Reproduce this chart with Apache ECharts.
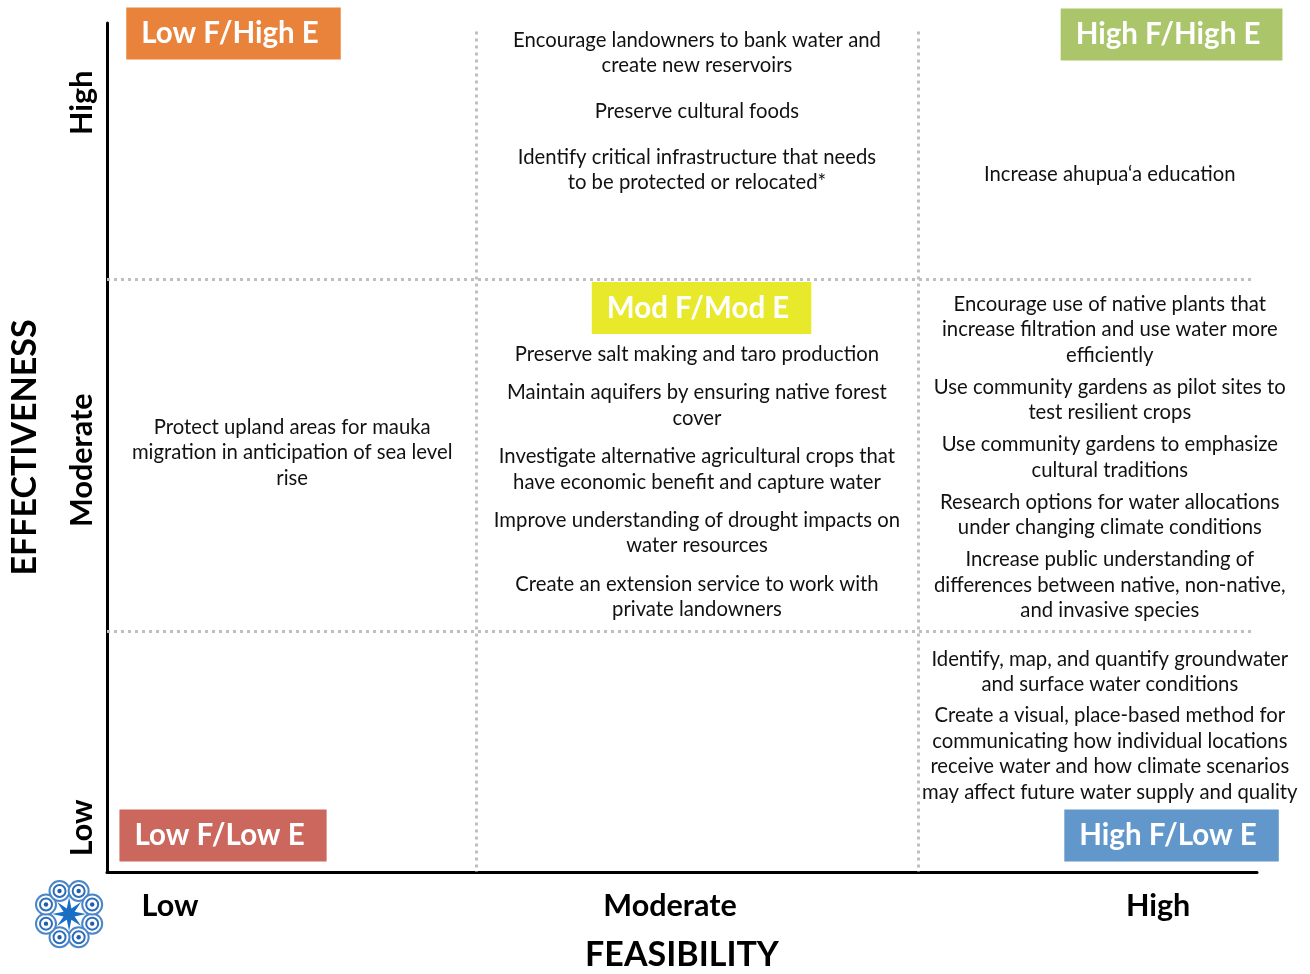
<!DOCTYPE html>
<html>
<head>
<meta charset="utf-8">
<script src="https://cdn.jsdelivr.net/npm/echarts@6/dist/echarts.min.js"></script>
<style>
html,body{margin:0;padding:0;background:#fff;}
#chart{width:1310px;height:974px;}
</style>
</head>
<body>
<div id="chart"></div>
<script>
// ---------------- DATA ----------------
const xAxisTitle = 'FEASIBILITY';
const yAxisTitle = 'EFFECTIVENESS';
const feasibilityLevels = ['Low', 'Moderate', 'High'];
const effectivenessLevels = ['Low', 'Moderate', 'High'];
const quadrantBadges = ['Low F/High E', 'High F/High E', 'Mod F/Mod E', 'Low F/Low E', 'High F/Low E'];

const modFeasHighEff = [
  'Encourage landowners to bank water and\ncreate new reservoirs',
  'Preserve cultural foods',
  'Identify critical infrastructure that needs\nto be protected or relocated*'
];
const highFeasHighEff = [
  'Increase ahupua\u2018a education'
];
const lowFeasModEff = [
  'Protect upland areas for mauka\nmigration in anticipation of sea level\nrise'
];
const modFeasModEff = [
  'Preserve salt making and taro production',
  'Maintain aquifers by ensuring native forest\ncover',
  'Investigate alternative agricultural crops that\nhave economic benefit and capture water',
  'Improve understanding of drought impacts on\nwater resources',
  'Create an extension service to work with\nprivate landowners'
];
const highFeasModEff = [
  'Encourage use of native plants that\nincrease filtration and use water more\nefficiently',
  'Use community gardens as pilot sites to\ntest resilient crops',
  'Use community gardens to emphasize\ncultural traditions',
  'Research options for water allocations\nunder changing climate conditions',
  'Increase public understanding of\ndifferences between native, non-native,\nand invasive species'
];
const highFeasLowEff = [
  'Identify, map, and quantify groundwater\nand surface water conditions',
  'Create a visual, place-based method for\ncommunicating how individual locations\nreceive water and how climate scenarios\nmay affect future water supply and quality'
];

// ---------------- LAYOUT (axis units 0-100) ----------------
const FONT = 'Lato, "Open Sans", sans-serif';
const colBounds = [32.1, 70.5];
const rowBounds = [28.3, 69.8];
const cellLayout = [
  { items: modFeasHighEff, pos: [51.3, 99.5], gap: 20 },
  { items: highFeasHighEff, pos: [87.2, 83.7], gap: 0 },
  { items: lowFeasModEff, pos: [16.1, 53.9], gap: 0 },
  { items: modFeasModEff, pos: [51.3, 62.5], gap: 12.5 },
  { items: highFeasModEff, pos: [87.2, 68.4], gap: 6 },
  { items: highFeasLowEff, pos: [87.2, 26.6], gap: 5 }
];
const badgeLayout = [
  { pos: [11.0, 98.76], color: '#E9823A' },
  { pos: [92.57, 98.64], color: '#ABC56A' },
  { pos: [51.7, 66.43], color: '#E9E92B' },
  { pos: [10.09, 4.3], color: '#CC675E' },
  { pos: [92.57, 4.3], color: '#6197CB' }
];
const xLevelPos = [[5.48, -4.0], [48.96, -4.0], [91.4, -4.0]];
const yLevelPos = [[-2.17, 5.2], [-2.17, 48.5], [-2.17, 90.6]];

function cellLabel(items, gap) {
  const parts = [];
  items.forEach((it, i) => {
    if (i > 0 && gap > 0) parts.push('{g| }');
    it.split('\n').forEach(l => parts.push('{t|' + l + '}'));
  });
  return parts.join('\n');
}

const cellData = cellLayout.map(c => ({
  value: c.pos,
  label: {
    formatter: cellLabel(c.items, c.gap),
    rich: {
      t: { fontFamily: FONT, fontSize: 20.3, lineHeight: 25.7, color: '#111', align: 'center' },
      g: { fontSize: 1, lineHeight: Math.max(1, c.gap) }
    }
  }
}));

const badgeData = quadrantBadges.map((b, i) => ({
  value: badgeLayout[i].pos,
  name: b,
  label: { backgroundColor: badgeLayout[i].color }
}));

const xLevelData = feasibilityLevels.map((l, i) => ({ value: xLevelPos[i], name: l }));
const yLevelData = effectivenessLevels.map((l, i) => ({ value: yLevelPos[i], name: l }));

const dotted = { color: '#BFBFBF', width: 3, type: [3, 4] };
const solidItem = { opacity: 1 };

const option = {
  backgroundColor: '#ffffff',
  animation: false,
  grid: { left: 107, right: 53, top: 23, bottom: 102, outerBoundsMode: 'none', containLabel: false },
  xAxis: {
    type: 'value', min: 0, max: 100,
    name: xAxisTitle, nameLocation: 'middle', nameGap: 66,
    nameTextStyle: { fontFamily: FONT, fontWeight: 'bold', fontSize: 34, color: '#000' },
    axisLine: { show: true, onZero: false, lineStyle: { color: '#000', width: 3 } },
    axisTick: { show: false }, axisLabel: { show: false }, splitLine: { show: false }
  },
  yAxis: {
    type: 'value', min: 0, max: 100,
    name: yAxisTitle, nameLocation: 'middle', nameGap: 65, nameRotate: 90,
    nameTextStyle: { fontFamily: FONT, fontWeight: 'bold', fontSize: 34, color: '#000' },
    axisLine: { show: true, onZero: false, lineStyle: { color: '#000', width: 3 } },
    axisTick: { show: false }, axisLabel: { show: false }, splitLine: { show: false }
  },
  graphic: [{
    type: 'group', left: 35, top: 880, children: (function () {
      const ch = [];
      const cx = 37, cy = 36;
      for (let k = 0; k < 8; k++) {
        const a = (k * 45 + 22.5) * Math.PI / 180;
        const px = cx + 25 * Math.cos(a), py = cy + 25 * Math.sin(a);
        ch.push({ type: 'circle', shape: { cx: px, cy: py, r: 10 }, style: { fill: '#fff', stroke: '#4A86C8', lineWidth: 2 } });
        ch.push({ type: 'circle', shape: { cx: px, cy: py, r: 6 }, style: { fill: 'none', stroke: '#2E6DB8', lineWidth: 2 } });
        ch.push({ type: 'circle', shape: { cx: px, cy: py, r: 2.2 }, style: { fill: '#1F5FAE' } });
      }
      const pts = [];
      for (let k = 0; k < 16; k++) {
        const a = (k * 22.5) * Math.PI / 180;
        const r = k % 2 === 0 ? 17 : 6;
        pts.push([cx + r * Math.cos(a), cy + r * Math.sin(a)]);
      }
      ch.push({ type: 'polygon', shape: { points: pts }, style: { fill: '#1A6FC4' } });
      return ch;
    })()
  }],
  series: [
    {
      type: 'scatter', symbolSize: 0, clip: false, silent: true,
      data: [],
      markLine: {
        silent: true, symbol: 'none', label: { show: false },
        lineStyle: dotted,
        data: [
          [{ coord: [colBounds[0], 99] }, { coord: [colBounds[0], 0] }],
          [{ coord: [colBounds[1], 99] }, { coord: [colBounds[1], 0] }],
          [{ coord: [0, rowBounds[0]] }, { coord: [99.7, rowBounds[0]] }],
          [{ coord: [0, rowBounds[1]] }, { coord: [99.7, rowBounds[1]] }]
        ]
      }
    },
    {
      type: 'scatter', symbolSize: 0, clip: false, silent: true, z: 5,
      itemStyle: solidItem,
      data: cellData,
      label: { show: true, position: 'bottom', distance: 0, align: 'center' }
    },
    {
      type: 'scatter', symbolSize: 0, clip: false, silent: true, z: 6,
      itemStyle: solidItem,
      data: badgeData,
      label: {
        show: true, position: 'inside', formatter: '{b}',
        fontFamily: FONT, fontWeight: 'bold', fontSize: 29.5, color: '#fff',
        padding: [11, 22, 11, 15]
      }
    },
    {
      type: 'scatter', symbolSize: 0, clip: false, silent: true,
      itemStyle: solidItem,
      data: xLevelData,
      label: {
        show: true, position: 'inside', formatter: '{b}',
        fontFamily: FONT, fontWeight: 'bold', fontSize: 30.5, color: '#000'
      }
    },
    {
      type: 'scatter', symbolSize: 0, clip: false, silent: true,
      itemStyle: solidItem,
      data: yLevelData,
      label: {
        show: true, position: 'inside', formatter: '{b}', rotate: 90,
        fontFamily: FONT, fontWeight: 'bold', fontSize: 30.5, color: '#000'
      }
    }
  ]
};

const chart = echarts.init(document.getElementById('chart'), null, { renderer: 'canvas' });
chart.setOption(option);
</script>
</body>
</html>
